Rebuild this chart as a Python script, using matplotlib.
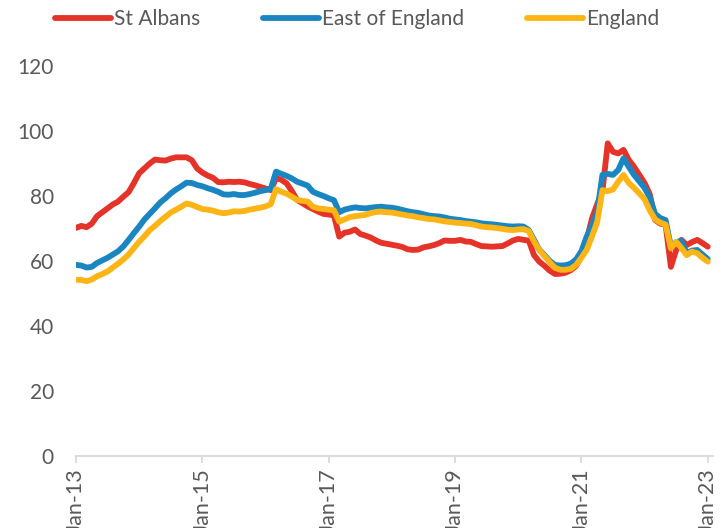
import matplotlib.pyplot as plt

plt.rcParams['font.family'] = ['Lato', 'DejaVu Sans']

# monthly index, Jan-13 .. Jan-23
months = list(range(121))
tick_pos = [0, 24, 48, 72, 96, 120]
tick_labels = ["Jan-13", "Jan-15", "Jan-17", "Jan-19", "Jan-21", "Jan-23"]

st_albans = [
    70.2, 70.8, 70.4, 71.5, 73.8, 75.0, 76.2, 77.4, 78.3, 79.8,
    81.2, 84.0, 87.0, 88.5, 90.0, 91.2, 91.0, 90.9, 91.5, 91.9,
    91.9, 91.9, 91.0, 88.5, 87.2, 86.3, 85.6, 84.3, 84.2, 84.4,
    84.3, 84.4, 84.2, 83.7, 83.3, 82.8, 82.3, 81.8, 85.5, 85.0,
    83.9, 81.5, 78.8, 77.8, 76.8, 76.0, 75.2, 74.5, 74.3, 74.0,
    67.5, 68.7, 69.0, 69.7, 68.3, 67.8, 67.2, 66.3, 65.6, 65.3,
    65.0, 64.7, 64.3, 63.6, 63.4, 63.5, 64.2, 64.5, 64.9, 65.5,
    66.3, 66.2, 66.2, 66.5, 66.0, 65.9, 65.2, 64.6, 64.5, 64.4,
    64.5, 64.6, 65.4, 66.3, 66.8, 66.5, 66.3, 61.8, 59.8, 58.5,
    57.0, 56.0, 56.1, 56.4, 57.2, 58.5, 61.5, 66.5, 73.0, 77.5,
    81.5, 96.2, 93.6, 93.1, 94.2, 91.1, 89.0, 86.5, 84.0, 80.5,
    72.6, 71.5, 71.1, 58.2, 63.4, 66.5, 64.9, 65.8, 66.5, 65.5,
    64.4,
]

east_of_england = [
    58.8, 58.6, 58.0, 58.2, 59.4, 60.2, 61.0, 62.0, 63.0, 64.5,
    66.5, 68.6, 70.6, 72.8, 74.5, 76.2, 78.0, 79.3, 80.8, 82.0,
    83.0, 84.1, 84.0, 83.4, 83.0, 82.4, 81.9, 81.3, 80.5, 80.4,
    80.6, 80.3, 80.3, 80.6, 81.0, 81.5, 81.8, 82.2, 87.5, 86.8,
    86.2, 85.4, 84.4, 83.8, 83.2, 81.3, 80.6, 80.0, 79.3, 78.7,
    75.0, 75.8, 76.2, 76.5, 76.3, 76.2, 76.4, 76.6, 76.7, 76.5,
    76.4, 76.1, 75.7, 75.3, 75.0, 74.8, 74.4, 74.0, 73.8, 73.7,
    73.4, 73.0, 72.8, 72.6, 72.3, 72.1, 71.9, 71.6, 71.4, 71.3,
    71.1, 70.9, 70.7, 70.6, 70.7, 70.6, 69.5, 66.5, 63.5, 61.8,
    60.0, 58.8, 58.6, 58.7, 59.2, 60.5, 63.0, 67.5, 71.0, 75.0,
    86.5, 86.8, 86.5, 88.0, 91.6, 89.0, 86.5, 84.5, 82.5, 79.5,
    74.5, 73.2, 72.6, 64.4, 65.8, 66.2, 62.4, 63.2, 63.4, 62.0,
    60.6,
]

england = [
    54.2, 54.2, 53.8, 54.3, 55.3, 56.0, 56.8, 58.0, 59.2, 60.5,
    62.0, 64.0, 65.9, 67.6, 69.5, 70.8, 72.3, 73.6, 74.9, 75.8,
    76.7, 77.7, 77.3, 76.6, 76.0, 75.8, 75.5, 75.0, 74.7, 74.9,
    75.3, 75.2, 75.4, 75.8, 76.1, 76.4, 76.8, 77.5, 82.1, 81.3,
    80.7, 79.8, 78.8, 78.5, 78.3, 76.7, 76.2, 76.0, 75.8, 75.6,
    72.1, 72.8, 73.5, 73.8, 74.0, 74.2, 74.7, 75.1, 75.2, 75.0,
    74.9, 74.6, 74.3, 74.0, 73.8, 73.4, 73.2, 72.9, 72.8, 72.5,
    72.2, 72.0, 71.8, 71.7, 71.5, 71.4, 71.0, 70.6, 70.4, 70.3,
    70.1, 69.9, 69.6, 69.5, 69.7, 69.8, 69.2, 66.0, 63.4, 61.5,
    59.6, 57.9, 57.3, 57.3, 57.6, 58.8, 61.0, 63.4, 67.5, 72.0,
    81.8, 81.5, 82.0, 84.4, 86.5, 84.0, 82.5, 80.8, 79.0, 75.5,
    72.8, 71.8, 71.2, 63.9, 65.9, 64.0, 61.8, 62.9, 62.4, 61.0,
    59.8,
]

grey = '#595959'
fig = plt.figure(figsize=(7.28, 5.28), dpi=100)
ax = fig.add_axes([76/728, 72/528, 637/728, 390/528])

lw = 4.2
ax.plot(months, st_albans, color='#E63329', lw=lw, solid_capstyle='round', solid_joinstyle='round', label='St Albans')
ax.plot(months, east_of_england, color='#1A86C1', lw=lw, solid_capstyle='round', solid_joinstyle='round', label='East of England')
ax.plot(months, england, color='#FDB515', lw=lw, solid_capstyle='round', solid_joinstyle='round', label='England')

ax.set_xlim(0, 121)
ax.set_ylim(0, 120)
ax.set_yticks(range(0, 121, 20))
ax.set_xticks(tick_pos)
ax.set_xticklabels(tick_labels, rotation=90)

for s in ['top', 'right', 'left']:
    ax.spines[s].set_visible(False)
ax.spines['bottom'].set_color('#D9D9D9')
ax.spines['bottom'].set_linewidth(1.3)
ax.tick_params(axis='y', length=0, pad=16, labelsize=15, labelcolor=grey)
ax.tick_params(axis='x', length=5, width=1.3, color='#D9D9D9', pad=4, labelsize=15.5, labelcolor=grey)

fig.legend(loc='center left', bbox_to_anchor=(55/728, 1 - 19/528), ncol=3, frameon=False,
           fontsize=15, labelcolor=grey, handlelength=2.7, handletextpad=0.15,
           columnspacing=3.0, borderpad=0, borderaxespad=0)

fig.savefig('out.png', dpi=100)
